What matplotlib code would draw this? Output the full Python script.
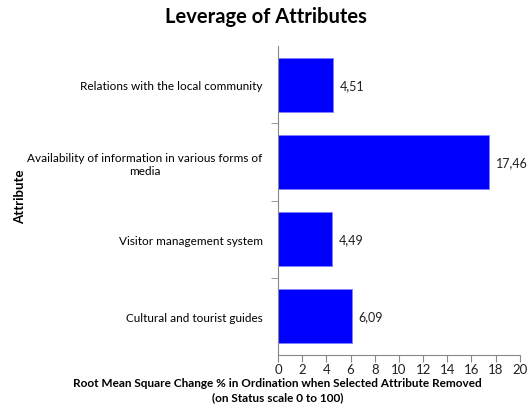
import matplotlib
matplotlib.use("Agg")
import matplotlib.pyplot as plt

plt.rcParams["font.family"] = ["Lato", "DejaVu Sans"]

attributes = [
    "Relations with the local community",
    "Availability of information in various forms of\nmedia",
    "Visitor management system",
    "Cultural and tourist guides",
]
leverage = [4.51, 17.46, 4.49, 6.09]
value_labels = ["4,51", "17,46", "4,49", "6,09"]
x_ticks = list(range(0, 21, 2))

fig = plt.figure(figsize=(5.31, 4.06), dpi=100)
ax = fig.add_axes([0.5235, 0.123, 0.4555, 0.761])

pos = list(range(len(attributes)))
ax.barh(pos, leverage, height=0.7, color="#0000FF", edgecolor="#8080FF", linewidth=0.6)
ax.set_ylim(len(attributes) - 0.5, -0.5)
ax.set_xlim(0, 20)

for p, v, lab in zip(pos, leverage, value_labels):
    ax.annotate(lab, (v, p), textcoords="offset points", xytext=(5, 0),
                va="center", ha="left", fontsize=9, color="#222222")

# category labels at centers, tick marks at boundaries
ax.set_yticks(pos)
ax.set_yticklabels(attributes, fontsize=8.5, multialignment="center")
ax.tick_params(axis="y", length=0, pad=11)
ax.set_yticks([i + 0.5 for i in pos[:-1]], minor=True)
ax.tick_params(axis="y", which="minor", length=5, color="#888888", direction="out")

ax.set_xticks(x_ticks)
ax.set_xticklabels([str(t) for t in x_ticks], fontsize=9.5, color="#222222")
ax.tick_params(axis="x", length=5, color="#888888", direction="out", pad=1)

for s in ["top", "right"]:
    ax.spines[s].set_visible(False)
for s in ["left", "bottom"]:
    ax.spines[s].set_color("#888888")
    ax.spines[s].set_linewidth(0.8)

fig.text(0.5, 0.958, "Leverage of Attributes", ha="center", va="center",
         fontsize=14.5, fontweight="bold")
fig.text(0.038, 0.515, "Attribute", rotation=90, ha="center", va="center",
         fontsize=9.5, fontweight="bold")
fig.text(0.523, 0.038, "Root Mean Square Change % in Ordination when Selected Attribute Removed\n(on Status scale 0 to 100)",
         ha="center", va="center", fontsize=8.5, fontweight="bold", linespacing=1.4)

fig.savefig("out.png", dpi=100)
